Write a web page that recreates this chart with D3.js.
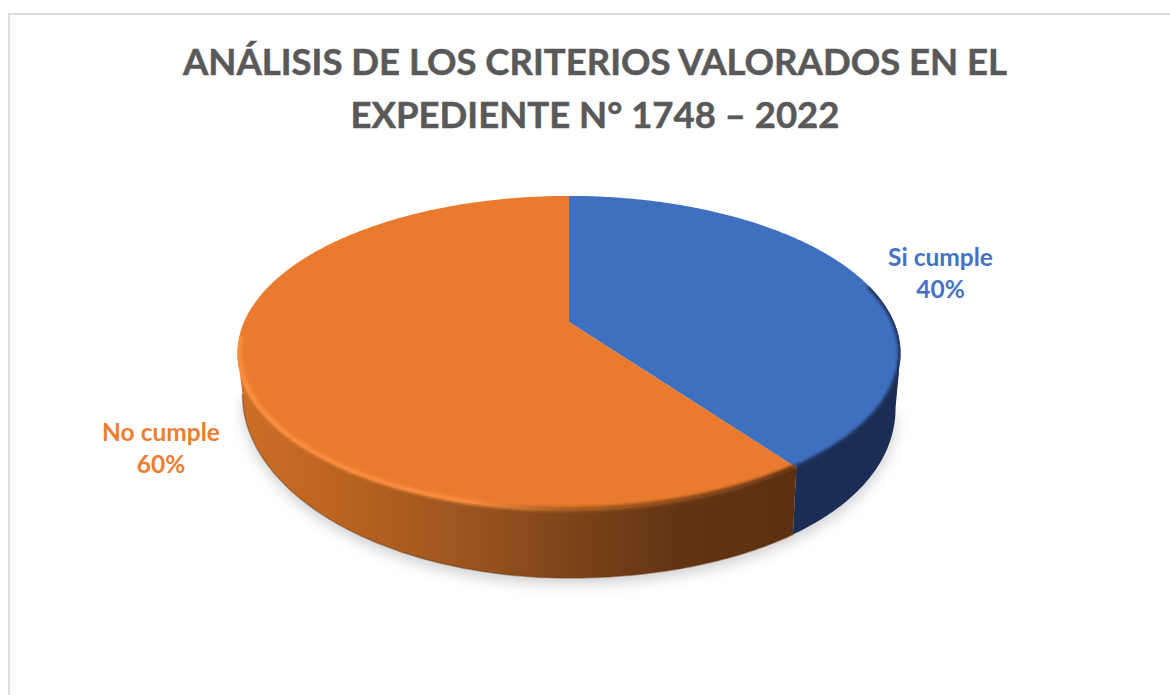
<!DOCTYPE html>
<html>
<head>
<meta charset="utf-8">
<script src="https://cdn.jsdelivr.net/npm/d3@7"></script>
<style>
  html, body { margin: 0; padding: 0; background: #fff; }
  text { font-family: Lato, "Open Sans", sans-serif; font-weight: 700; }
</style>
</head>
<body>
<svg id="chart" width="1170" height="695"></svg>
<script>
const categories  = [ 'Si cumple', 'No cumple' ];
const percentages = [ 40, 60 ];
const titleLines  = [ 'ANÁLISIS DE LOS CRITERIOS VALORADOS EN EL', 'EXPEDIENTE N° 1748 – 2022' ];

const topColors  = d3.scaleOrdinal( categories, [ '#3f6fbf', '#ea7b2e' ] );
const textColors = d3.scaleOrdinal( categories, [ '#4472c4', '#ed7d31' ] );

const width  = 1170;
const height = 695;

// Where the pie sits. The top face is a circle seen in perspective,
// so the centre point is above the middle of the drawn ellipse.
const cx = 569, cy = 322;
const rx = 325, ry = 151;
const tilt = 0.1975;

// The bottom edge of the wall is a plain ellipse on the page,
// hanging a little lower on the right hand side.
const bottomScale = 0.985, bottomCy = 394, bottomRy = 184, bottomLean = 14;
const bottomRx = bottomScale * rx / Math.sqrt( 1 - tilt * tilt );

// Angles where the side of the disc leaves the silhouette.
const wallStart = Math.acos( -tilt );
const wallEnd   = Math.PI * 2 - wallStart;

const svg = d3.select( '#chart' );
svg.append( 'rect' ).attr( 'width', width ).attr( 'height', height ).attr( 'fill', '#fff' );

// Chart frame, only top and left are inside the crop.
svg.append( 'path' )
  .attr( 'd', d3.line()( [ [ 9, height ], [ 9, 14 ], [ width, 14 ] ] ) )
  .attr( 'fill', 'none' )
  .attr( 'stroke', '#dcdcdc' )
  .attr( 'stroke-width', 2 );

const defs = svg.append( 'defs' );

const blur = ( id, amount ) => defs.append( 'filter' ).attr( 'id', id )
  .attr( 'x', '-10%' ).attr( 'y', '-10%' ).attr( 'width', '120%' ).attr( 'height', '120%' )
  .append( 'feGaussianBlur' ).attr( 'stdDeviation', amount );
blur( 'shadowBlur', 7 );
blur( 'rimBlur', 1.7 );

const gradient = ( id, stops ) => {
  const g = defs.append( 'linearGradient' ).attr( 'id', id )
    .attr( 'gradientUnits', 'userSpaceOnUse' )
    .attr( 'x1', 237 ).attr( 'x2', 795 ).attr( 'y1', 0 ).attr( 'y2', 0 );
  stops.forEach( s => g.append( 'stop' ).attr( 'offset', s[0] ).attr( 'stop-color', s[1] ) );
};
gradient( 'sideOrange', [ [ 0, '#cc6f28' ], [ .2, '#b8631f' ], [ .435, '#985220' ], [ .615, '#7a4218' ], [ .795, '#633414' ], [ 1, '#5c3010' ] ] );
gradient( 'rimOrange',  [ [ 0, '#fb8f3f' ], [ .42, '#f98c3c' ], [ .58, '#a85c20' ], [ 1, '#5c3010' ] ] );

// Circle point at the given pie angle, projected to the page.
const project = ( angle, scale = 1 ) => {
  const u = Math.sin( angle ), v = -Math.cos( angle );
  const w = 1 - tilt * v;
  return [ cx + scale * rx * u / w, cy + scale * ry * v / w ];
};

// Point on the bottom edge of the wall under the given pie angle.
const projectBottom = angle => {
  const x = project( angle, bottomScale )[0];
  const t = Math.min( 1, Math.abs( x - cx ) / bottomRx );
  const lean = x > cx ? bottomLean * t * t : 0;
  return [ x, bottomCy + lean + bottomRy * Math.sqrt( 1 - t * t ) ];
};

const sweep = ( a0, a1, fn ) => {
  const n = Math.max( 2, Math.ceil( ( a1 - a0 ) * 80 ) );
  return d3.range( n + 1 ).map( i => fn( a0 + ( a1 - a0 ) * i / n ) );
};

const line = d3.line();
const pie  = d3.pie().sort( null )( percentages );

// Outer wall of a slice, only the part facing the viewer.
const wallPath = d => {
  const from = Math.max( d.startAngle, wallStart );
  const to   = Math.min( d.endAngle, wallEnd );
  const top  = sweep( from, to, a => project( a ) );
  const bot  = sweep( from, to, projectBottom ).reverse();
  return line( top.concat( bot ) ) + 'Z';
};
const facePath = d => line( [ [ cx, cy ] ].concat( sweep( d.startAngle, d.endAngle, a => project( a ) ) ) ) + 'Z';

// Soft shadow under the pie.
svg.append( 'path' )
  .attr( 'd', line( sweep( wallStart, wallEnd, projectBottom ) ) + 'Z' )
  .attr( 'transform', 'translate(0,6)' )
  .attr( 'fill', '#c4c4c8' )
  .attr( 'opacity', .8 )
  .attr( 'filter', 'url(#shadowBlur)' );

// Walls.
svg.selectAll( 'path.wall' )
  .data( pie )
  .enter().append( 'path' )
  .attr( 'class', 'wall' )
  .attr( 'd', wallPath )
  .attr( 'fill', d => d.index === 0 ? '#1a2d54' : 'url(#sideOrange)' );

// Darker line where the orange wall meets the floor.
svg.append( 'path' )
  .attr( 'd', line( sweep( pie[1].startAngle, wallEnd, projectBottom ) ) )
  .attr( 'fill', 'none' )
  .attr( 'stroke', '#6b3810' )
  .attr( 'stroke-opacity', .45 )
  .attr( 'stroke-width', 1.5 );

// Top faces.
svg.selectAll( 'path.face' )
  .data( pie )
  .enter().append( 'path' )
  .attr( 'class', 'face' )
  .attr( 'd', facePath )
  .attr( 'fill', d => topColors( categories[ d.index ] ) );

// Bevel along the rim: lit on the orange slice, dark on the blue one.
// It is clipped to the disc so the blur does not spill onto the page.
const clip = defs.append( 'clipPath' ).attr( 'id', 'discClip' );
pie.forEach( d => {
  clip.append( 'path' ).attr( 'd', wallPath( d ) );
  clip.append( 'path' ).attr( 'd', facePath( d ) );
} );

const rimStart = [ Math.PI * .42, pie[1].startAngle ];
const rimEnd   = [ pie[0].endAngle, Math.PI * 1.47 ];
const rimScale = [ 1, .995 ];
const rim = svg.append( 'g' ).attr( 'clip-path', 'url(#discClip)' );
pie.forEach( d => {
  rim.append( 'path' )
    .attr( 'd', line( sweep( rimStart[ d.index ], rimEnd[ d.index ], a => project( a, rimScale[ d.index ] ) ) ) )
    .attr( 'fill', 'none' )
    .attr( 'stroke', d.index === 0 ? '#1a2d54' : 'url(#rimOrange)' )
    .attr( 'stroke-width', 5 )
    .attr( 'filter', 'url(#rimBlur)' );
} );

// Title.
svg.selectAll( 'text.title' )
  .data( titleLines )
  .enter().append( 'text' )
  .attr( 'class', 'title' )
  .attr( 'x', 595 )
  .attr( 'y', ( d, i ) => 75 + i * 53 )
  .attr( 'text-anchor', 'middle' )
  .attr( 'font-size', 36.5 )
  .attr( 'fill', '#595959' )
  .attr( 'stroke', '#595959' )
  .attr( 'stroke-width', .5 )
  .text( d => d );

// Data labels.
const labelX = [ 940.5, 161 ];
const labelY = [ 266, 441 ];
categories.forEach( ( c, i ) => {
  const label = svg.append( 'text' )
    .attr( 'text-anchor', 'middle' )
    .attr( 'font-size', 24.5 )
    .attr( 'fill', textColors( c ) );
  label.append( 'tspan' ).attr( 'x', labelX[ i ] ).attr( 'y', labelY[ i ] ).text( c );
  label.append( 'tspan' ).attr( 'x', labelX[ i ] ).attr( 'y', labelY[ i ] + 32 ).text( percentages[ i ] + '%' );
} );
</script>
</body>
</html>
